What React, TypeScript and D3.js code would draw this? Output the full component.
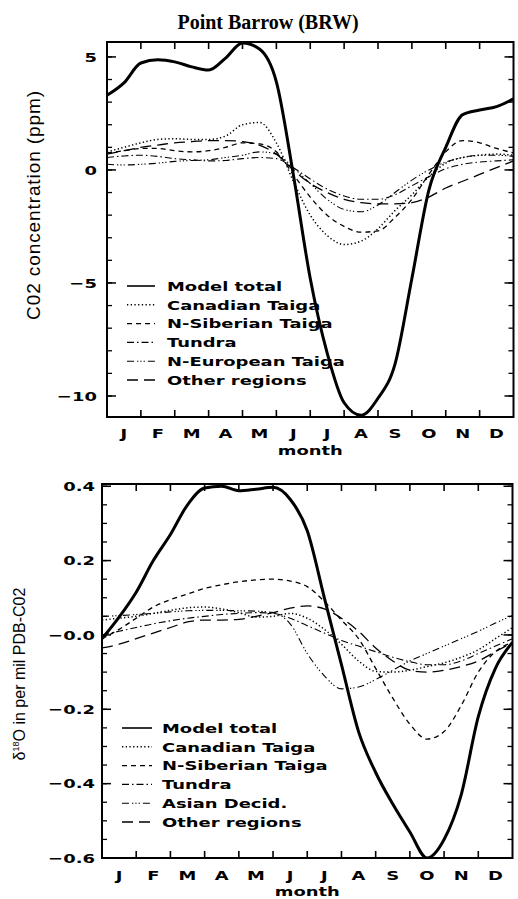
import React from "react";
import * as d3 from "d3";

// ---------- data ----------
const MONTHS = ["J", "F", "M", "A", "M", "J", "J", "A", "S", "O", "N", "D"];
const X_GRID = [0, 0.5, 1, 1.5, 2, 2.5, 3, 3.5, 4, 4.5, 5, 5.5, 6, 6.5, 7, 7.5, 8, 8.5, 9, 9.5, 10, 10.5, 11, 11.5, 12];

// Top panel: CO2 concentration (ppm)
const co2ModelTotal = [3.3, 3.85, 4.73, 4.87, 4.78, 4.56, 4.42, 4.95, 5.62, 5.35, 3.9, -0.2, -4.8, -8.1, -10.3, -10.85, -10.1, -8.6, -4.8, -0.9, 1.0, 2.45, 2.65, 2.8, 3.15];
const co2Canadian = [0.8, 1.0, 1.2, 1.35, 1.38, 1.35, 1.35, 1.5, 2.0, 2.1, 1.2, -0.5, -2.0, -2.9, -3.3, -3.15, -2.6, -1.8, -1.1, -0.3, 0.3, 0.55, 0.65, 0.7, 0.65];
const co2NSiberian = [0.75, 0.85, 0.95, 0.95, 0.85, 0.8, 0.85, 1.0, 1.2, 1.15, 0.8, -0.2, -1.2, -2.0, -2.5, -2.75, -2.7, -2.1, -1.3, -0.2, 0.8, 1.3, 1.2, 0.95, 0.75];
const co2Tundra = [0.55, 0.62, 0.65, 0.6, 0.5, 0.45, 0.4, 0.42, 0.5, 0.55, 0.5, 0.1, -0.4, -0.85, -1.15, -1.3, -1.3, -1.1, -0.7, -0.3, 0.05, 0.25, 0.35, 0.4, 0.45];
const co2NEuropean = [0.25, 0.22, 0.25, 0.3, 0.38, 0.42, 0.45, 0.55, 0.65, 0.8, 0.7, 0.1, -0.6, -1.3, -1.75, -1.85, -1.55, -1.0, -0.45, 0.0, 0.35, 0.55, 0.65, 0.65, 0.6];
const co2Other = [0.7, 0.85, 1.0, 1.1, 1.2, 1.25, 1.3, 1.3, 1.25, 1.1, 0.7, 0.0, -0.6, -1.0, -1.3, -1.45, -1.5, -1.5, -1.45, -1.2, -0.8, -0.5, -0.2, 0.1, 0.4];

// Bottom panel: delta 18O (per mil PDB-CO2)
const d18ModelTotal = [-0.01, 0.048, 0.115, 0.2, 0.27, 0.35, 0.395, 0.4, 0.388, 0.392, 0.397, 0.365, 0.28, 0.1, -0.08, -0.26, -0.37, -0.455, -0.53, -0.6, -0.55, -0.43, -0.22, -0.09, -0.02];
const d18Canadian = [0.04, 0.045, 0.05, 0.058, 0.066, 0.073, 0.075, 0.07, 0.06, 0.048, 0.05, 0.058, 0.045, 0.015, -0.025, -0.07, -0.098, -0.1, -0.095, -0.085, -0.075, -0.06, -0.04, -0.01, 0.02];
const d18NSiberian = [-0.01, 0.015, 0.045, 0.075, 0.095, 0.11, 0.125, 0.135, 0.143, 0.148, 0.15, 0.145, 0.13, 0.09, 0.04, -0.01, -0.09, -0.17, -0.24, -0.28, -0.26, -0.19, -0.1, -0.045, -0.02];
const d18Tundra = [0.0, 0.01, 0.02, 0.03, 0.038, 0.045, 0.05, 0.055, 0.058, 0.06, 0.058, 0.045, 0.025, 0.005, -0.015, -0.03, -0.045, -0.06, -0.072, -0.08, -0.08, -0.07, -0.05, -0.03, -0.01];
const d18Asian = [0.05, 0.052, 0.055, 0.058, 0.062, 0.065, 0.066, 0.066, 0.065, 0.064, 0.06, 0.03, -0.05, -0.11, -0.145, -0.14, -0.12, -0.095, -0.07, -0.05, -0.03, -0.01, 0.01, 0.032, 0.052];
const d18Other = [-0.035, -0.025, -0.01, 0.005, 0.02, 0.035, 0.04, 0.04, 0.042, 0.05, 0.06, 0.072, 0.078, 0.07, 0.045, 0.01, -0.035, -0.07, -0.095, -0.1, -0.095, -0.085, -0.07, -0.045, -0.02];

const TOP_TICKS = [5, 0, -5, -10];
const TOP_TICK_LABELS = ["5", "0", "\u22125", "\u221210"];
const BOT_TICKS = [0.4, 0.2, 0.0, -0.2, -0.4, -0.6];
const BOT_TICK_LABELS = ["0.4", "0.2", "\u22120.0", "\u22120.2", "\u22120.4", "\u22120.6"];

// ---------- styles ----------
const STYLE = {
  solid: { width: 3, dash: "none" },
  dotted: { width: 1.5, dash: "1.3,2.4" },
  shortDash: { width: 1.3, dash: "5,4" },
  dashDot: { width: 1.1, dash: "7,3,1.5,3" },
  dashDot3: { width: 1.1, dash: "7,3,1.3,2,1.3,2,1.3,3" },
  longDash: { width: 1.3, dash: "11,6" },
};

const BOLD_FONT = "'DejaVu Sans', sans-serif";
const SX = 1.38;

function WText({ x, y, anchor = "start", size = 13, children }) {
  return (
    <text
      transform={`translate(${x},${y}) scale(${SX},1)`}
      textAnchor={anchor}
      fontFamily={BOLD_FONT}
      fontWeight="bold"
      fontSize={size}
      fill="#000"
    >
      {children}
    </text>
  );
}

function Panel({ id, left, right, top, bottom, yDomain, ticks, tickLabels, minorTicks, labelGap, series, legend, monthBaseline, monthTitleBaseline }) {
  const x = d3.scaleLinear().domain([0, 12]).range([left, right]);
  const y = d3.scaleLinear().domain(yDomain).range([bottom, top]);
  const line = d3
    .line()
    .x((d) => x(d[0]))
    .y((d) => y(d[1]))
    .curve(d3.curveMonotoneX);
  const monthBounds = d3.range(1, 12);
  return (
    <g>
      <defs>
        <clipPath id={id}>
          <rect x={left} y={top} width={right - left} height={bottom - top} />
        </clipPath>
      </defs>
      <g clipPath={`url(#${id})`}>
        {series.map((s, i) => (
          <path
            key={i}
            d={line(X_GRID.map((m, j) => [m, s.values[j]]))}
            fill="none"
            stroke="#000"
            strokeWidth={s.style.width}
            strokeDasharray={s.style.dash}
            strokeLinejoin="round"
          />
        ))}
      </g>
      {/* frame */}
      <rect x={left} y={top} width={right - left} height={bottom - top} fill="none" stroke="#000" strokeWidth={2} />
      {/* x ticks (top and bottom) */}
      {monthBounds.map((m) => (
        <g key={m}>
          <line x1={x(m)} x2={x(m)} y1={bottom} y2={bottom - 7} stroke="#000" strokeWidth={1.6} />
          <line x1={x(m)} x2={x(m)} y1={top} y2={top + 7} stroke="#000" strokeWidth={1.6} />
        </g>
      ))}
      {/* y minor ticks */}
      {minorTicks.map((v, i) => (
        <g key={i}>
          <line x1={left} x2={left + 5} y1={y(v)} y2={y(v)} stroke="#000" strokeWidth={1.3} />
          <line x1={right} x2={right - 5} y1={y(v)} y2={y(v)} stroke="#000" strokeWidth={1.3} />
        </g>
      ))}
      {/* y major ticks */}
      {ticks.map((v, i) => (
        <g key={i}>
          <line x1={left} x2={left + 9} y1={y(v)} y2={y(v)} stroke="#000" strokeWidth={1.5} />
          <line x1={right} x2={right - 9} y1={y(v)} y2={y(v)} stroke="#000" strokeWidth={1.5} />
          <WText x={left - labelGap} y={y(v) + 4.7} anchor="end">
            {tickLabels[i]}
          </WText>
        </g>
      ))}
      {/* month labels */}
      {MONTHS.map((mo, i) => (
        <WText key={i} x={x(i + 0.5)} y={monthBaseline} anchor="middle">
          {mo}
        </WText>
      ))}
      <WText x={(left + right) / 2} y={monthTitleBaseline} anchor="middle">
        month
      </WText>
      {/* legend */}
      {series.map((s, i) => {
        const cy = legend.y0 + i * legend.step;
        return (
          <g key={i}>
            <line
              x1={legend.x0}
              x2={legend.x1}
              y1={cy}
              y2={cy}
              stroke="#000"
              strokeWidth={s.style === STYLE.solid ? 1.6 : s.style.width}
              strokeDasharray={s.style.dash}
            />
            <WText x={legend.tx} y={cy + 4.8}>
              {s.name}
            </WText>
          </g>
        );
      })}
    </g>
  );
}

export default function App() {
  const topSeries = [
    { name: "Model total", values: co2ModelTotal, style: STYLE.solid },
    { name: "Canadian Taiga", values: co2Canadian, style: STYLE.dotted },
    { name: "N-Siberian Taiga", values: co2NSiberian, style: STYLE.shortDash },
    { name: "Tundra", values: co2Tundra, style: STYLE.dashDot },
    { name: "N-European Taiga", values: co2NEuropean, style: STYLE.dashDot3 },
    { name: "Other regions", values: co2Other, style: STYLE.longDash },
  ];
  const botSeries = [
    { name: "Model total", values: d18ModelTotal, style: STYLE.solid },
    { name: "Canadian Taiga", values: d18Canadian, style: STYLE.dotted },
    { name: "N-Siberian Taiga", values: d18NSiberian, style: STYLE.shortDash },
    { name: "Tundra", values: d18Tundra, style: STYLE.dashDot },
    { name: "Asian Decid.", values: d18Asian, style: STYLE.dashDot3 },
    { name: "Other regions", values: d18Other, style: STYLE.longDash },
  ];
  return (
    <svg
      width={518}
      height={899}
      style={{ position: "absolute", left: 0, top: 0, background: "#fff", display: "block" }}
    >
      <rect width={518} height={899} fill="#fff" />
      <text x={268} y={29} textAnchor="middle" fontFamily="'Liberation Serif', serif" fontWeight="bold" fontSize={20}>
        Point Barrow (BRW)
      </text>
      <Panel
        id="clipTop"
        left={107}
        right={513.5}
        top={42}
        bottom={417}
        yDomain={[-10.93, 5.66]}
        ticks={TOP_TICKS}
        tickLabels={TOP_TICK_LABELS}
        minorTicks={d3.range(-10, 6, 1)}
        labelGap={10}
        series={topSeries}
        legend={{ x0: 127, x1: 155, tx: 167, y0: 286, step: 18.8 }}
        monthBaseline={438}
        monthTitleBaseline={455}
      />
      <text
        transform="translate(40,205) rotate(-90)"
        textAnchor="middle"
        fontFamily="'Liberation Sans', Arial, sans-serif"
        fontSize={19}
        letterSpacing={0.9}
      >
        C02 concentration (ppm)
      </text>
      <Panel
        id="clipBot"
        left={102}
        right={512.5}
        top={484}
        bottom={858}
        yDomain={[-0.6, 0.406]}
        ticks={BOT_TICKS}
        tickLabels={BOT_TICK_LABELS}
        minorTicks={d3.range(-0.6, 0.41, 0.05)}
        labelGap={7}
        series={botSeries}
        legend={{ x0: 122, x1: 152, tx: 162, y0: 728, step: 18.8 }}
        monthBaseline={880}
        monthTitleBaseline={896}
      />
      <text
        transform="translate(25,674) rotate(-90)"
        textAnchor="middle"
        fontFamily="'Liberation Sans', Arial, sans-serif"
        fontSize={16}
      >
        {"\u03b4"}
        <tspan fontSize={9} dy={-6}>18</tspan>
        <tspan dy={6}>O in per mil PDB-C02</tspan>
      </text>
    </svg>
  );
}
